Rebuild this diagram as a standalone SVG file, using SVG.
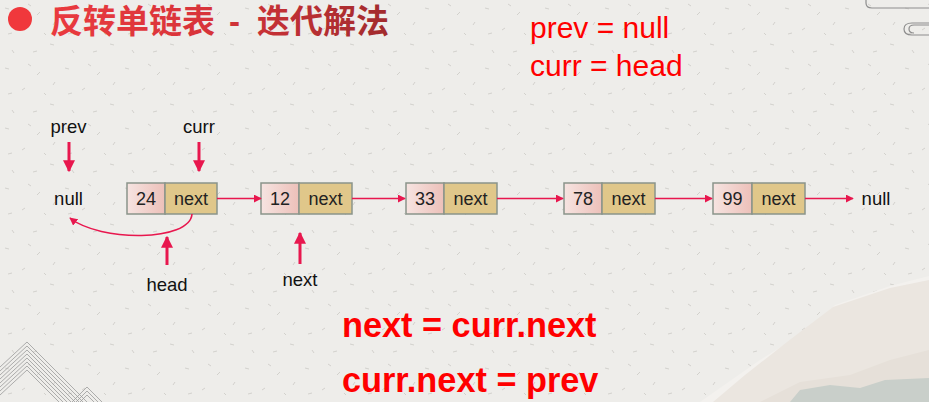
<svg xmlns="http://www.w3.org/2000/svg" width="929" height="402" viewBox="0 0 929 402">
<defs>
<style>
.lbl{font-family:"Liberation Sans",Arial,sans-serif;font-size:18.5px;fill:#111}
.nt{font-family:"Liberation Sans",Arial,sans-serif;font-size:18px;fill:#222}
.cell{stroke:#8a948a;stroke-width:1.5}
.val{fill:url(#valg)}
.nxt{fill:#e0c78a}
.conn{stroke:#e8174e;stroke-width:1.6;fill:none;marker-end:url(#ah)}
.ptr{stroke:#e8174e;stroke-width:3;fill:none;marker-end:url(#ahb)}
.code{font-family:"Liberation Sans",Arial,sans-serif;fill:#ff0000}
.deco{fill:none;stroke:#8d8d8d;stroke-width:1.2}
</style>
<linearGradient id="valg" x1="0" y1="0" x2="1" y2="0">
<stop offset="0" stop-color="#f6e4e1"/>
<stop offset="1" stop-color="#edc0b9"/>
</linearGradient>
<linearGradient id="titleg" gradientUnits="userSpaceOnUse" x1="50" y1="0" x2="393" y2="0">
<stop offset="0" stop-color="#ea3a3e"/>
<stop offset="0.45" stop-color="#d8343a"/>
<stop offset="1" stop-color="#a02b2d"/>
</linearGradient>
<marker id="ah" viewBox="0 0 10 10" refX="9" refY="5" markerWidth="5" markerHeight="5" orient="auto" markerUnits="strokeWidth">
<path d="M0,0 L10,5 L0,10 z" fill="#e8174e"/>
</marker>
<marker id="ahb" viewBox="0 0 10 10" refX="9" refY="5" markerWidth="4" markerHeight="4.2" orient="auto" markerUnits="strokeWidth">
<path d="M0,0 L10,5 L0,10 z" fill="#e8174e"/>
</marker>
<pattern id="paper" width="60" height="60" patternUnits="userSpaceOnUse">
<path d="M5,8 l4,1 M22,30 l3,-2 M40,12 l-3,3 M50,44 l4,1 M12,50 l2,3 M33,52 l4,-1 M55,22 l-2,3 M28,4 l3,2 M8,34 l4,-1 M44,33 l2,2" stroke="#b5b3ad" stroke-width="0.7" fill="none" opacity="0.7"/>
</pattern>
</defs>

<g id="background">
<rect x="0" y="0" width="929" height="402" fill="#eeedea"/>
<rect x="0" y="0" width="929" height="402" fill="url(#paper)"/>
<path d="M700,402 L760,360 L800,335 L835,305 L890,286 L929,276 L929,402 z" fill="#f3f1ee"/>
<path d="M713,402 L745,375 L787,342 L833,307 L890,288 L929,280 L929,402 z" fill="#ebe6e0"/>
<path d="M760,402 L800,382 L850,375 L890,360 L929,350 L929,402 z" fill="#e6e0d9"/>
<path d="M790,402 L800,390 L830,385 L860,388 L885,380 L929,378 L929,402 z" fill="#c9cfca"/>
<path d="M866,0 L866,3 Q866,8 872,8 L929,8" class="deco"/>
<path d="M929,23 L912,23 Q904,23 904,29 Q904,35 912,35 L929,35 M929,25 L914,25 Q909,25 909,29 Q909,33 914,33" class="deco"/>
<g stroke="#9a9a9a" stroke-width="0.8" fill="none">
<path d="M0,367 L27,342 L87,402"/>
<path d="M0,371 L27,346 L83,402"/>
<path d="M0,375 L27,350 L79,402"/>
<path d="M0,379 L27,354 L75,402"/>
<path d="M0,383 L27,358 L71,402"/>
<path d="M0,387 L27,362 L67,402"/>
<path d="M0,391 L27,366 L63,402"/>
<path d="M0,395 L27,370 L59,402"/>
<path d="M72,402 L87,387 L102,402"/>
<path d="M76,402 L87,391 L98,402"/>
<path d="M80,402 L87,395 L94,402"/>
</g>
</g>

<g id="title">
<circle cx="20" cy="19" r="12" fill="#f0383c"/>
<text font-family="'Liberation Sans','Noto Sans CJK SC',sans-serif" font-size="33" font-weight="bold" fill="url(#titleg)" y="33"><tspan x="50">反转单链表</tspan><tspan x="229">-</tspan><tspan x="257">迭代解法</tspan></text>
</g>

<g id="init-code">
<text class="code" x="530" y="38" font-size="30">prev = null</text>
<text class="code" x="530" y="76" font-size="30">curr = head</text>
</g>

<g id="step-code">
<text class="code" x="342" y="337" font-size="34.3" font-weight="bold">next = curr.next</text>
<text class="code" x="342" y="392" font-size="34.3" font-weight="bold">curr.next = prev</text>
</g>

<g id="null-left"><text class="lbl" x="68.5" y="205" text-anchor="middle">null</text></g>
<g id="null-right"><text class="lbl" x="876" y="205" text-anchor="middle">null</text></g>

<g id="node-24">
<rect class="cell val" x="127" y="183" width="38" height="31"/>
<rect class="cell nxt" x="165" y="183" width="52" height="31"/>
<text class="nt" x="146" y="205" text-anchor="middle">24</text>
<text class="nt" x="191" y="205" text-anchor="middle">next</text>
</g>
<g id="node-12">
<rect class="cell val" x="261" y="183" width="38" height="31"/>
<rect class="cell nxt" x="299" y="183" width="53" height="31"/>
<text class="nt" x="280" y="205" text-anchor="middle">12</text>
<text class="nt" x="325.5" y="205" text-anchor="middle">next</text>
</g>
<g id="node-33">
<rect class="cell val" x="406" y="183" width="38" height="31"/>
<rect class="cell nxt" x="444" y="183" width="53" height="31"/>
<text class="nt" x="425" y="205" text-anchor="middle">33</text>
<text class="nt" x="470.5" y="205" text-anchor="middle">next</text>
</g>
<g id="node-78">
<rect class="cell val" x="564" y="183" width="38" height="31"/>
<rect class="cell nxt" x="602" y="183" width="53" height="31"/>
<text class="nt" x="583" y="205" text-anchor="middle">78</text>
<text class="nt" x="628.5" y="205" text-anchor="middle">next</text>
</g>
<g id="node-99">
<rect class="cell val" x="713" y="183" width="39" height="31"/>
<rect class="cell nxt" x="752" y="183" width="53" height="31"/>
<text class="nt" x="732.5" y="205" text-anchor="middle">99</text>
<text class="nt" x="778.5" y="205" text-anchor="middle">next</text>
</g>

<g id="pointer-labels">
<text class="lbl" x="68.5" y="133" text-anchor="middle">prev</text>
<text class="lbl" x="199" y="133" text-anchor="middle">curr</text>
<text class="lbl" x="167" y="291" text-anchor="middle">head</text>
<text class="lbl" x="300" y="286" text-anchor="middle">next</text>
</g>

<g id="connectors">
<path class="conn" d="M217,198.5 L261,198.5"/>
<path class="conn" d="M352,198.5 L405,198.5"/>
<path class="conn" d="M497,198.5 L563,198.5"/>
<path class="conn" d="M655,198.5 L712,198.5"/>
<path class="conn" d="M805,198.5 L853,198.5"/>
<path class="conn" d="M192,214 C190,242 100,242 70,218"/>
<path class="ptr" d="M69,142 L69,171"/>
<path class="ptr" d="M199,142 L199,171"/>
<path class="ptr" d="M167,265 L167,237"/>
<path class="ptr" d="M300,264 L300,233"/>
</g>
</svg>
